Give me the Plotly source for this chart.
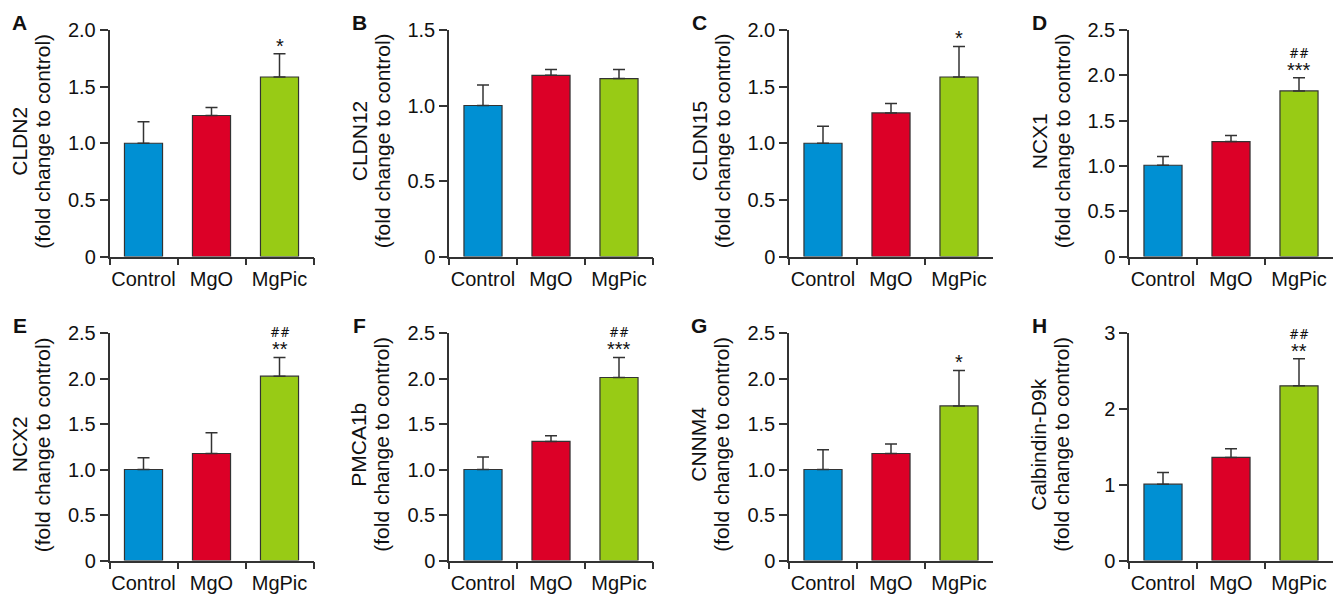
import plotly.graph_objects as go

# page has an 8px body margin; compensate so the figure lands where the reference has it
OFF = 8
W, H = 1343 - OFF, 596 - OFF

groups = ["Control", "MgO", "MgPic"]
genes = ["CLDN2", "CLDN12", "CLDN15", "NCX1", "NCX2", "PMCA1b", "CNNM4", "Calbindin-D9k"]
letters = ["A", "B", "C", "D", "E", "F", "G", "H"]
title_sub = "(fold change to control)"

means_A = [1.00, 1.245, 1.585]
err_A = [0.19, 0.07, 0.205]
means_B = [1.00, 1.20, 1.178]
err_B = [0.136, 0.038, 0.06]
means_C = [1.00, 1.268, 1.585]
err_C = [0.15, 0.082, 0.27]
means_D = [1.007, 1.268, 1.827]
err_D = [0.096, 0.067, 0.147]
means_E = [1.00, 1.176, 2.026]
err_E = [0.129, 0.228, 0.206]
means_F = [1.00, 1.309, 2.011]
err_F = [0.136, 0.062, 0.221]
means_G = [1.00, 1.176, 1.699]
err_G = [0.217, 0.103, 0.389]
means_H = [1.006, 1.359, 2.303]
err_H = [0.154, 0.114, 0.357]

all_means = [means_A, means_B, means_C, means_D, means_E, means_F, means_G, means_H]
all_errs = [err_A, err_B, err_C, err_D, err_E, err_F, err_G, err_H]

y_max = [2.0, 1.5, 2.0, 2.5, 2.5, 2.5, 2.5, 3.0]
y_step = [0.5, 0.5, 0.5, 0.5, 0.5, 0.5, 0.5, 1.0]
stars = ["*", "", "*", "***", "**", "***", "*", "**"]
hashes = ["", "", "", "##", "##", "##", "", "##"]

bar_colors = ["#0090D3", "#DC0027", "#98CB15"]
FONT = "Liberation Sans, Arial, sans-serif"
AX = "#333333"
TXT = "#111111"

# layout geometry (target page pixels)
axis_left = [109.5, 449, 789, 1129]
axis_w = 204
row_top = [30, 333]
row_bot = [256.5, 560.5]


def px_x(p):
    return (p - OFF) / W


def px_y(p):
    return 1 - (p - OFF) / H


fig = go.Figure()
layout = dict(
    width=W, height=H, margin=dict(l=0, r=0, t=0, b=0),
    paper_bgcolor="white", plot_bgcolor="white", showlegend=False,
    font=dict(family=FONT, size=20, color=TXT),
)
annotations = []

for i in range(8):
    r, c = divmod(i, 4)
    xa = "x" if i == 0 else f"x{i+1}"
    ya = "y" if i == 0 else f"y{i+1}"
    xkey = "xaxis" if i == 0 else f"xaxis{i+1}"
    ykey = "yaxis" if i == 0 else f"yaxis{i+1}"
    x0 = axis_left[c]
    x1 = x0 + axis_w
    top = row_top[r]
    bot = row_bot[r]

    fig.add_trace(go.Bar(
        x=groups, y=all_means[i], xaxis=xa, yaxis=ya, width=0.56,
        marker=dict(color=bar_colors, line=dict(color=AX, width=1.2)),
        error_y=dict(type="data", symmetric=False, array=all_errs[i],
                     arrayminus=[0, 0, 0], color=AX, thickness=1.5, width=6),
    ))

    n = int(round(y_max[i] / y_step[i]))
    tv = [k * y_step[i] for k in range(n + 1)]
    if y_step[i] >= 1:
        tt = [f"{v:.0f}" for v in tv]
    else:
        tt = ["0"] + [f"{v:.1f}" for v in tv[1:]]

    layout[xkey] = dict(
        domain=[px_x(x0), px_x(x1)], anchor=ya, type="category", automargin=False,
        range=[-0.5, 2.5], showline=True, linecolor=AX, linewidth=1.5,
        ticks="outside", tickson="boundaries", ticklen=7, tickcolor=AX,
        tickwidth=1.5, showgrid=False, zeroline=False, tickangle=0,
        ticklabelstandoff=4,
        tickfont=dict(size=20, color=TXT, family=FONT),
    )
    layout[ykey] = dict(
        domain=[px_y(bot), px_y(top)], anchor=xa, automargin=False,
        range=[0, y_max[i]], showline=True, linecolor=AX, linewidth=1.5,
        ticks="outside", ticklen=8, tickcolor=AX, tickwidth=1.5,
        tickvals=tv, ticktext=tt, showgrid=False, zeroline=False,
        tickfont=dict(size=20, color=TXT, family=FONT),
    )

    # panel letter
    annotations.append(dict(
        text=f"<b>{letters[i]}</b>", xref="paper", yref="paper",
        x=px_x(x0 - 90), y=px_y(top - 8), showarrow=False,
        font=dict(size=21, color=TXT, family=FONT),
        xanchor="center", yanchor="middle",
    ))
    # y-axis title (two lines)
    ymid = px_y((top + bot) / 2 - 2)
    annotations.append(dict(
        text=genes[i], xref="paper", yref="paper",
        x=px_x(x0 - 90), y=ymid, showarrow=False,
        textangle=-90, font=dict(size=21, color=TXT, family=FONT),
        xanchor="center", yanchor="middle",
    ))
    annotations.append(dict(
        text=title_sub, xref="paper", yref="paper",
        x=px_x(x0 - 67), y=ymid, showarrow=False,
        textangle=-90, font=dict(size=21, color=TXT, family=FONT),
        xanchor="center", yanchor="middle",
    ))
    # significance marks
    top_val = all_means[i][2] + all_errs[i][2]
    if stars[i]:
        annotations.append(dict(
            text=stars[i], xref=xa, yref=ya, x=groups[2], y=top_val,
            showarrow=False, yanchor="bottom", yshift=-5,
            font=dict(size=20, color=TXT, family=FONT),
        ))
    if hashes[i]:
        annotations.append(dict(
            text=hashes[i], xref=xa, yref=ya, x=groups[2], y=top_val,
            showarrow=False, yanchor="bottom", yshift=15,
            font=dict(size=12, color=TXT, family="DejaVu Serif, serif"),
        ))

layout["annotations"] = annotations
fig.update_layout(**layout)
fig.write_html("out.html")
